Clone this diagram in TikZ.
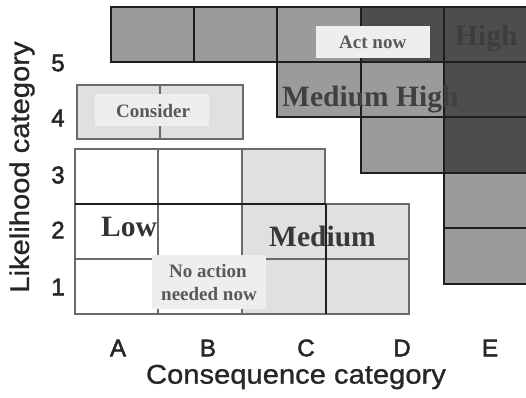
\documentclass[tikz,border=0pt]{standalone}
\usepackage{fontspec}
\setmainfont{Liberation Serif}
\newfontfamily\arfont[FakeBold=2.2]{Liberation Sans}
\newfontfamily\arfontw[FakeBold=1.0,FakeStretch=1.08]{Liberation Sans}
\definecolor{darkc}{HTML}{4D4D4D}
\definecolor{midc}{HTML}{9B9B9B}
\definecolor{lightc}{HTML}{E0E0E0}
\definecolor{labc}{HTML}{EEEEEE}
\definecolor{edgedark}{HTML}{1E1E1E}
\definecolor{edgelight}{HTML}{6A6A6A}
\tikzset{
  celldark/.style={fill=darkc,draw=edgedark,line width=1.2pt},
  cellmid/.style={fill=midc,draw=edgedark,line width=1.2pt},
  celllight/.style={fill=lightc,draw=edgelight,line width=1.2pt},
  cellwhite/.style={fill=white,draw=edgelight,line width=1.2pt},
  labbox/.style={fill=labc,draw=none},
  bigtxt/.style={anchor=base west,inner sep=0pt,font=\fontsize{29.5}{30}\selectfont\bfseries},
  smalltxt/.style={anchor=base west,inner sep=0pt,font=\fontsize{19}{20}\selectfont\bfseries,text=black!65},
  tick/.style={font=\arfont\fontsize{24}{24}\selectfont,text=black!85,inner sep=0pt},
  axtitle/.style={font=\arfontw\fontsize{27}{28}\selectfont,text=black!85,inner sep=0pt}
}
\begin{document}
\begin{tikzpicture}[x=1pt,y=-1pt]
\useasboundingbox (0,0) rectangle (526,397);
% top row (likelihood 5)
\draw[cellmid] (111,7) rectangle (194,62);
\draw[cellmid] (194,7) rectangle (277,62);
\draw[cellmid] (277,7) rectangle (361,62);
\draw[celldark] (361,7) rectangle (444,62);
\draw[celldark] (444,7) rectangle (527,62);
% row 4 right
\draw[cellmid] (277,62) rectangle (361,117);
\draw[cellmid] (361,62) rectangle (444,117);
\draw[celldark] (444,62) rectangle (527,117);
% row 3 right
\draw[cellmid] (361,117) rectangle (444,173);
\draw[celldark] (444,117) rectangle (527,173);
% E rows 2,1
\draw[cellmid] (444,173) rectangle (527,228);
\draw[cellmid] (444,228) rectangle (527,284);
% Consider row
\draw[celllight] (77,85) rectangle (160,139);
\draw[celllight] (160,85) rectangle (243,139);
% low block
\draw[cellwhite] (75,149) rectangle (158,204);
\draw[cellwhite] (158,149) rectangle (242,204);
\draw[celllight] (242,149) rectangle (325,204);
\draw[cellwhite] (75,204) rectangle (158,259);
\draw[cellwhite] (158,204) rectangle (242,259);
\draw[cellwhite] (75,259) rectangle (158,314);
\draw[cellwhite] (158,259) rectangle (242,314);
% medium block
\draw[celllight] (242,204) rectangle (326,259);
\draw[celllight] (326,204) rectangle (409,259);
\draw[celllight] (242,259) rectangle (326,314);
\draw[celllight] (326,259) rectangle (409,314);
% black inner lines
\draw[edgedark,line width=1.2pt] (75,204) -- (326,204);
\draw[edgedark,line width=1.2pt] (326,204) -- (326,314);
% big labels
\node[bigtxt,text=black!76] (high) at (455,45) {High};
\node[bigtxt,text=black!75] (mh) at (282,106) {Medium High};
\node[bigtxt,text=black!80] (low) at (101,236) {Low};
\node[bigtxt,text=black!78] (med) at (269,246) {Medium};
% label boxes
\fill[labbox] (316,26) rectangle (430,58);
\node[smalltxt] (act) at (339,48) {Act now};
\fill[labbox] (95,94) rectangle (209,126);
\node[smalltxt] (cons) at (116,117) {Consider};
\fill[labbox] (152,255) rectangle (266,309);
\node[smalltxt] (na1) at (169,277) {No action};
\node[smalltxt] (na2) at (161,300) {needed now};
% ticks
\node[tick] (l5) at (58,63) {5};
\node[tick] (l4) at (58,118) {4};
\node[tick] (l3) at (58,175) {3};
\node[tick] (l2) at (58,230) {2};
\node[tick] (l1) at (58,287) {1};
\node[tick] (ca) at (118,348) {A};
\node[tick] (cb) at (208,348) {B};
\node[tick] (cc) at (306,348) {C};
\node[tick] (cd) at (402,348) {D};
\node[tick] (ce) at (490,348) {E};
\node[axtitle,rotate=90] (ylab) at (22,167) {Likelihood category};
\node[axtitle] (xlab) at (296,377) {Consequence category};
\end{tikzpicture}
\end{document}
